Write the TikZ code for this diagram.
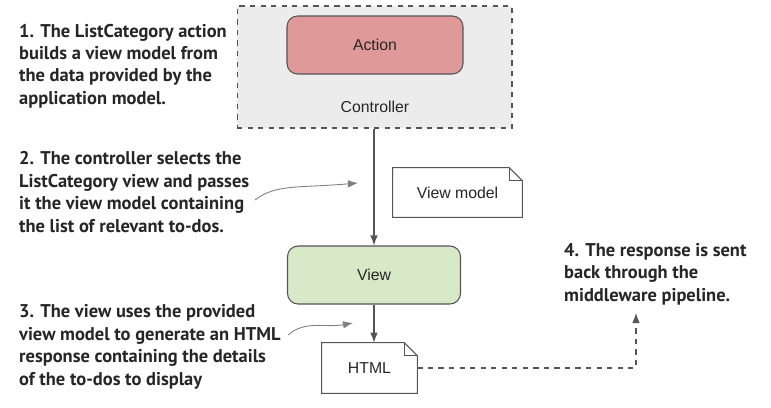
\documentclass[tikz,border=0pt]{standalone}
\usepackage{fontspec}
\setmainfont{Liberation Sans}
\newfontfamily\notefont{PT Sans}
\usetikzlibrary{arrows.meta, calc, positioning}
\tikzset{>={Latex[length=2mm,width=1.5mm]}}
\definecolor{actionred}{RGB}{224,153,153}
\definecolor{viewgreen}{RGB}{216,233,199}
\definecolor{ctrlgray}{RGB}{236,236,236}
\definecolor{edgegray}{RGB}{85,85,85}
\tikzset{
  boxstyle/.style={draw=edgegray, rounded corners=6pt, line width=0.6pt,
    font=\fontsize{9}{11}\selectfont, text=black!85},
  docstyle/.style={fill=white, font=\fontsize{9}{11}\selectfont, text=black!85},
  docline/.style={draw=edgegray, line width=0.6pt},
  note/.style={anchor=west, align=left, text=black!85,
    font=\notefont\bfseries\fontsize{10.5}{12.8}\selectfont},
  flow/.style={->, draw=edgegray, line width=0.6pt},
  pointer/.style={->, draw=gray, line width=0.5pt}
}
% paper corner for a document
\newcommand{\dogear}[1]{
  \draw[docline] (#1.south west) -- (#1.north west)
    -- ($(#1.north east)+(-0.26cm,0)$) -- ($(#1.north east)+(0,-0.26cm)$)
    -- (#1.south east) -- cycle;
  \draw[docline] ($(#1.north east)+(-0.26cm,0)$) |- ($(#1.north east)+(0,-0.26cm)$);
}

\begin{document}
\begin{tikzpicture}[x=0.02cm, y=-0.02cm]
  \useasboundingbox[fill=white] (0,0) rectangle (771,407);

  % controller with its action
  \node[draw=edgegray, dashed, fill=ctrlgray, line width=0.6pt,
    minimum width=5.5cm, minimum height=2.44cm] (ctrl) at (374.5,67) {};
  \node[boxstyle, fill=actionred, minimum width=3.52cm, minimum height=1.16cm]
    (action) at (375,45) {Action};
  \node[font=\fontsize{9}{11}\selectfont, text=black!85] (ctrllabel) at (375,107) {Controller};

  % view and documents
  \node[boxstyle, fill=viewgreen, minimum width=3.46cm, minimum height=1.16cm]
    (view) at (374,275) {View};
  \node[docstyle, minimum width=2.58cm, minimum height=0.98cm] (vm) at (457.5,192.5) {View model};
  \dogear{vm}
  \node[docstyle, minimum width=1.9cm, minimum height=1cm] (html) at (369.5,368) {HTML};
  \dogear{html}

  \draw[flow] (ctrl.south -| view.north) -- (view.north);
  \draw[flow] (view.south) -- (view.south |- html.north);

  % notes
  \node[note] (note1) at (13,66) {1. The ListCategory action\\builds a view model from\\the data provided by the\\application model.};
  \node[note] (note2) at (13,192) {2. The controller selects the\\ListCategory view and passes\\it the view model containing\\the list of relevant to-dos.};
  \node[note] (note3) at (13,347) {3. The view uses the provided\\view model to generate an HTML\\response containing the details\\of the to-dos to display};
  \node[note] (note4) at (558,274) {4. The response is sent\\back through the\\middleware pipeline.};

  \coordinate (tip2) at (358,183);
  \coordinate (tip3) at (353,323);
  \coordinate (up4) at (636,313);
  \draw[pointer] (255,200) .. controls (275,184) and (300,188) .. (tip2);
  \draw[pointer] (288,335) .. controls (305,320) and (325,328) .. (tip3);
  \draw[flow, dashed] (html.east) -| (up4);
\end{tikzpicture}
\end{document}
